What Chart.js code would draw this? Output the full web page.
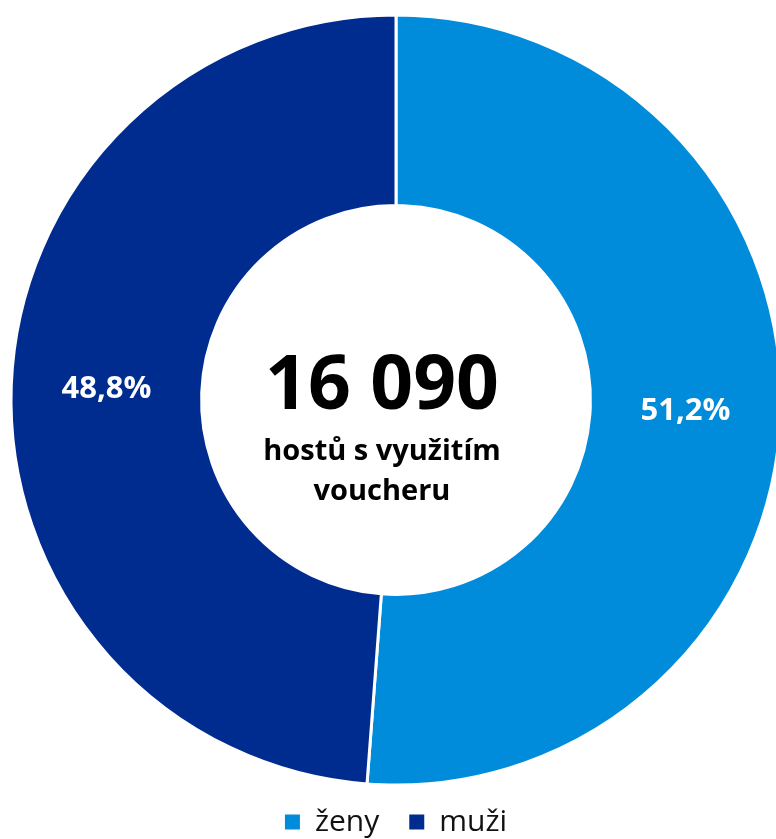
<!DOCTYPE html>
<html>
<head>
<meta charset="utf-8">
<script src="https://cdn.jsdelivr.net/npm/chart.js@4/dist/chart.umd.min.js"></script>
<style>
  html, body { margin: 0; padding: 0; overflow: hidden; background: #fff; width: 776px; height: 839px; }
  #wrap { position: absolute; left: 0; top: 0; width: 792px; height: 847px; }
</style>
</head>
<body>
<div id="wrap"><canvas id="c"></canvas></div>
<script>
const categories = ['ženy', 'muži'];
const shares = [51.2, 48.8];
const percentLabels = ['51,2%', '48,8%'];
const totalGuests = '16 090';
const centerLines = ['hostů s využitím', 'voucheru'];
const colors = ['#008cdb', '#002c8f'];

const FONT = '"Open Sans", "Noto Sans", sans-serif';

const labelPlugin = {
  id: 'arcLabels',
  afterDatasetsDraw(chart) {
    const ctx = chart.ctx;
    const meta = chart.getDatasetMeta(0);
    ctx.save();
    ctx.fillStyle = '#ffffff';
    ctx.font = 'bold 31px ' + FONT;
    ctx.textAlign = 'center';
    ctx.textBaseline = 'middle';
    meta.data.forEach((arc, i) => {
      const p = arc.tooltipPosition();
      ctx.fillText(percentLabels[i], p.x, p.y);
    });
    ctx.restore();
  }
};

const centerPlugin = {
  id: 'centerText',
  afterDraw(chart) {
    const ctx = chart.ctx;
    const arc = chart.getDatasetMeta(0).data[0];
    const cx = arc.x - 14, cy = arc.y;
    ctx.save();
    ctx.fillStyle = '#000000';
    ctx.textAlign = 'center';
    ctx.textBaseline = 'middle';
    ctx.font = 'bold 75px ' + FONT;
    ctx.fillText(totalGuests, cx, cy - 12);
    ctx.font = 'bold 29px ' + FONT;
    ctx.fillText(centerLines[0], cx, cy + 52);
    ctx.fillText(centerLines[1], cx, cy + 92);
    ctx.restore();
  }
};

new Chart(document.getElementById('c'), {
  type: 'doughnut',
  data: {
    labels: categories,
    datasets: [{
      data: shares,
      backgroundColor: colors,
      borderColor: '#ffffff',
      borderWidth: 3,
      hoverOffset: 0
    }]
  },
  options: {
    responsive: true,
    maintainAspectRatio: false,
    animation: false,
    radius: 385,
    cutout: '50.5%',
    layout: { padding: { top: 23, left: 11, right: 11, bottom: 0 } },
    plugins: {
      legend: {
        position: 'bottom',
        labels: {
          boxWidth: 15,
          boxHeight: 15,
          padding: 30,
          color: '#111',
          font: { family: FONT, size: 30 },
          generateLabels(chart) {
            const items = Chart.overrides.doughnut.plugins.legend.labels.generateLabels(chart);
            items.forEach(it => { it.lineWidth = 0; it.strokeStyle = 'rgba(0,0,0,0)'; });
            return items;
          }
        }
      },
      tooltip: { enabled: false }
    }
  },
  plugins: [labelPlugin, centerPlugin]
});
</script>
</body>
</html>
